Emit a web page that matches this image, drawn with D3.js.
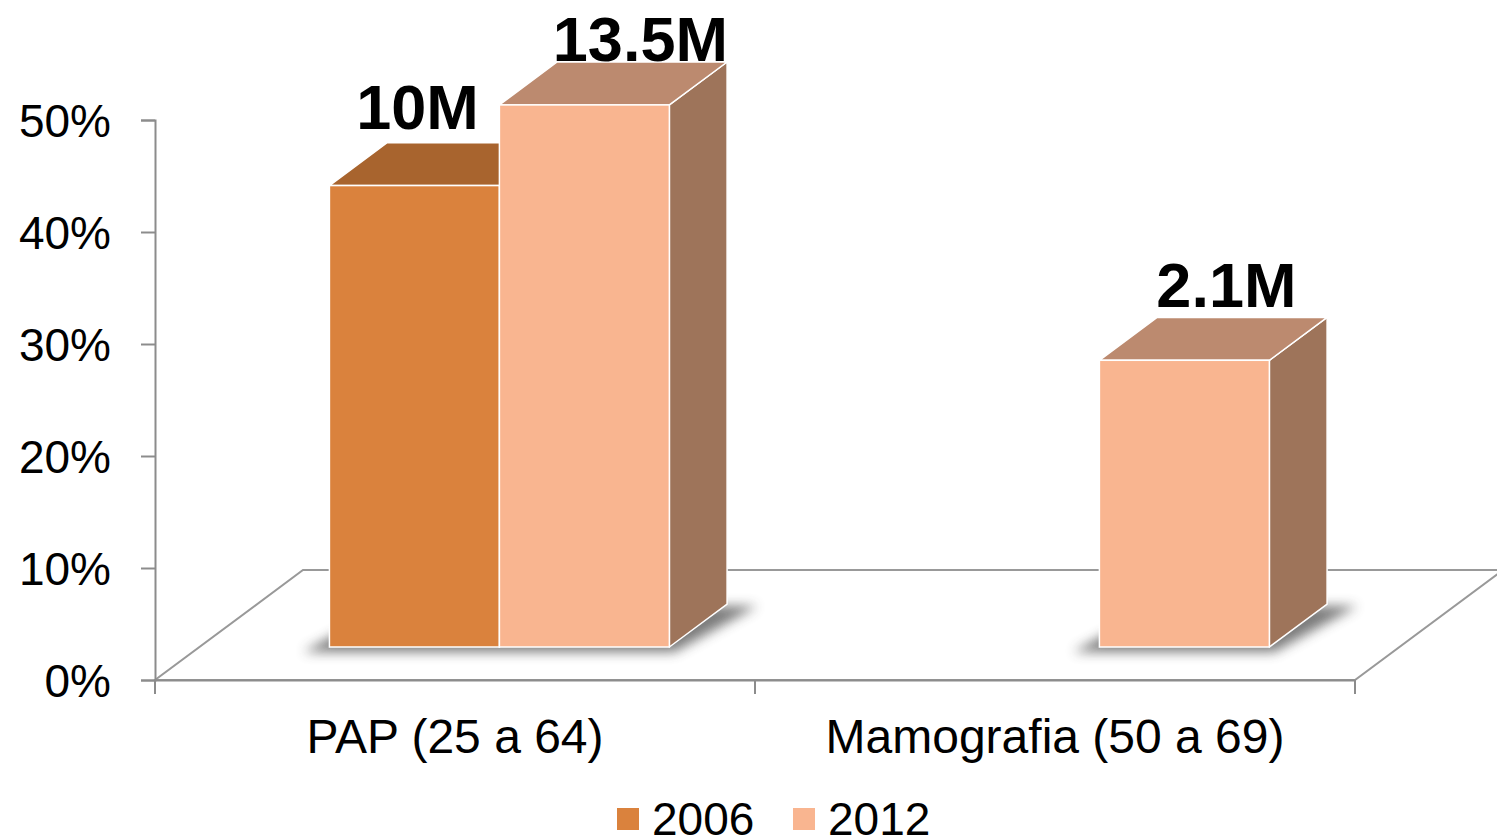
<!DOCTYPE html>
<html>
<head>
<meta charset="utf-8">
<script src="https://cdnjs.cloudflare.com/ajax/libs/d3/7.8.5/d3.min.js"></script>
<style>
  body { margin: 0; background: #fff; }
  text { font-family: "Liberation Sans", Arial, sans-serif; fill: #000; }
</style>
</head>
<body>
<svg id="chart"></svg>
<script>
// data
var categories = ["PAP (25 a 64)", "Mamografia (50 a 69)"];
var series = ["2006", "2012"];
var values2006 = [41.2, null];
var values2012 = [48.4, 25.6];
var labels2006 = ["10M", null];
var labels2012 = ["13.5M", "2.1M"];
var yTicks = [0, 10, 20, 30, 40, 50];

var w = 1497, h = 838;
var colors = {
  "2006": { front: "#DA823D", top: "#A8642E", side: "#8E5529" },
  "2012": { front: "#F9B590", top: "#BC8A6F", side: "#9E745A" }
};

var svg = d3.select("#chart").attr("width", w).attr("height", h);

var defs = svg.append("defs");
defs.append("filter").attr("id", "blur")
  .attr("x", "-20%").attr("y", "-50%").attr("width", "140%").attr("height", "200%")
  .append("feGaussianBlur").attr("stdDeviation", 6);

var x0 = d3.scaleBand().domain(categories).range([155, 1355]).padding(0);
var x1 = d3.scaleBand().domain(series).range([0, x0.bandwidth()]).paddingOuter(0.765).paddingInner(0);
var y = d3.scaleLinear().domain([0, 50]).range([680, 120]);

// floor depth vector
var depth = { dx: 148, dy: -110 };
var fFront = 0.3, fBack = 0.69;

// floor
var floorPts = [
  [155, y(0)], [1355, y(0)],
  [1355 + depth.dx, y(0) + depth.dy], [155 + depth.dx, y(0) + depth.dy]
];
svg.append("polygon")
  .attr("points", floorPts.map(function(p) { return p.join(","); }).join(" "))
  .attr("fill", "#fff")
  .attr("stroke", "#999")
  .attr("stroke-width", 2);

// y axis
var yAxis = d3.axisLeft(y).tickValues(yTicks).tickSize(14)
  .tickFormat(function(d) { return d + "%"; });
var gy = svg.append("g")
  .attr("transform", "translate(155,0)")
  .call(yAxis);
gy.select(".domain").attr("stroke", "#8c8c8c").attr("stroke-width", 2);
gy.selectAll(".tick line").attr("stroke", "#8c8c8c").attr("stroke-width", 2);
gy.selectAll(".tick text")
  .attr("x", -44)
  .attr("dy", "0.36em")
  .style("font-size", "46px")
  .attr("fill", "#000");

// x axis
var xAxis = d3.axisBottom(x0).tickSize(0).tickSizeOuter(0);
var gx = svg.append("g")
  .attr("transform", "translate(0," + y(0) + ")")
  .call(xAxis);
gx.select(".domain").attr("stroke", "#8c8c8c").attr("stroke-width", 2);
gx.selectAll(".tick text")
  .attr("y", 73)
  .attr("dy", 0)
  .style("font-size", "48px")
  .attr("fill", "#000");
// category boundary ticks
var bounds = [x0(categories[0]), x0(categories[1]), x0(categories[1]) + x0.bandwidth()];
gx.selectAll("line.bound")
  .data(bounds)
  .enter().append("line")
  .attr("class", "bound")
  .attr("x1", function(d) { return d; })
  .attr("x2", function(d) { return d; })
  .attr("y1", 0).attr("y2", 14)
  .attr("stroke", "#8c8c8c").attr("stroke-width", 2);

// bars
var bars = [];
categories.forEach(function(c, i) {
  [[ "2006", values2006[i], labels2006[i] ], [ "2012", values2012[i], labels2012[i] ]].forEach(function(s) {
    if (s[1] == null) return;
    bars.push({ cat: c, series: s[0], value: s[1], label: s[2] });
  });
});

function geom(d) {
  var fx = depth.dx * fFront, fy = depth.dy * fFront;
  var bx = depth.dx * (fBack - fFront), by = depth.dy * (fBack - fFront);
  var xl = x0(d.cat) + x1(d.series) + fx;
  var xr = xl + x1.bandwidth();
  var yb = y(0) + fy;
  var yt = y(d.value) + fy;
  return { xl: xl, xr: xr, yb: yb, yt: yt, bx: bx, by: by };
}

function pts(arr) { return arr.map(function(p) { return p.join(","); }).join(" "); }

// shadows under bar groups
var shadowGroups = d3.groups(bars, function(d) { return d.cat; });
shadowGroups.forEach(function(g) {
  var gs = g[1].map(geom);
  var xl = d3.min(gs, function(b) { return b.xl; });
  var xr = d3.max(gs, function(b) { return b.xr; });
  var b = gs[0];
  svg.append("polygon")
    .attr("points", pts([
      [xl - 26, b.yb + 5], [xr + 5, b.yb + 5],
      [xr + b.bx + 30, b.yb + b.by + 2], [xl + b.bx, b.yb + b.by + 2]
    ]))
    .attr("fill", "#444")
    .attr("opacity", 0.7)
    .attr("filter", "url(#blur)");
});

var barG = svg.selectAll("g.bar")
  .data(bars)
  .enter().append("g")
  .attr("class", "bar");

barG.append("polygon") // side
  .attr("points", function(d) {
    var g = geom(d);
    return pts([[g.xr, g.yb], [g.xr + g.bx, g.yb + g.by], [g.xr + g.bx, g.yt + g.by], [g.xr, g.yt]]);
  })
  .attr("fill", function(d) { return colors[d.series].side; })
  .attr("stroke", "#fff").attr("stroke-width", 1.5).attr("stroke-linejoin", "round");

barG.append("polygon") // top
  .attr("points", function(d) {
    var g = geom(d);
    return pts([[g.xl, g.yt], [g.xr, g.yt], [g.xr + g.bx, g.yt + g.by], [g.xl + g.bx, g.yt + g.by]]);
  })
  .attr("fill", function(d) { return colors[d.series].top; })
  .attr("stroke", "#fff").attr("stroke-width", 1.5).attr("stroke-linejoin", "round");

barG.append("rect") // front
  .attr("x", function(d) { return geom(d).xl; })
  .attr("y", function(d) { return geom(d).yt; })
  .attr("width", x1.bandwidth())
  .attr("height", function(d) { var g = geom(d); return g.yb - g.yt; })
  .attr("fill", function(d) { return colors[d.series].front; })
  .attr("stroke", "#fff").attr("stroke-width", 1.5);

// data labels (nudged like the original layout)
var labelNudge = { "10M": [3, -14], "13.5M": [56, -1], "2.1M": [42, -10] };
svg.selectAll("text.dlabel")
  .data(bars)
  .enter().append("text")
  .attr("class", "dlabel")
  .attr("text-anchor", "middle")
  .attr("x", function(d) { var g = geom(d); return (g.xl + g.xr) / 2 + labelNudge[d.label][0]; })
  .attr("y", function(d) { var g = geom(d); return g.yt + g.by + labelNudge[d.label][1]; })
  .style("font-size", "63px")
  .style("font-weight", "bold")
  .text(function(d) { return d.label; });

// legend
var legendX = [617, 793];
var leg = svg.selectAll("g.legend")
  .data(series)
  .enter().append("g")
  .attr("class", "legend")
  .attr("transform", function(d, i) { return "translate(" + legendX[i] + ",808)"; });
leg.append("rect")
  .attr("width", 22).attr("height", 22)
  .attr("fill", function(d) { return colors[d].front; });
leg.append("text")
  .attr("x", 35).attr("y", 27)
  .style("font-size", "46px")
  .text(function(d) { return d; });
</script>
</body>
</html>
